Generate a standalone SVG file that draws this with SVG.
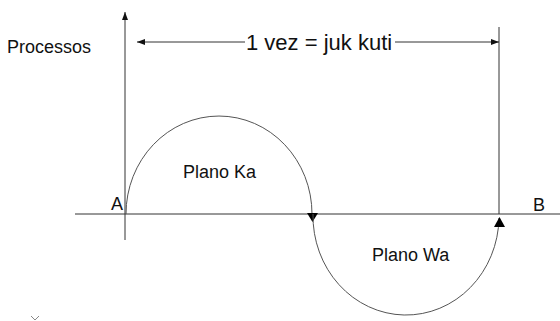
<svg xmlns="http://www.w3.org/2000/svg" width="560" height="321" viewBox="0 0 560 321">
<style>
.ax{stroke:#333;stroke-width:1;fill:none}
.arc{stroke:#555;stroke-width:1;fill:none}
text{font-family:"Liberation Sans",Arial,sans-serif;fill:#111}
.s{font-size:18px}
.l{font-size:22px}
</style>
<defs>
<marker id="sm" viewBox="0 0 8 6" refX="8" refY="3" markerWidth="8" markerHeight="6" orient="auto" markerUnits="userSpaceOnUse">
<path d="M0,0 L8,3 L0,6 z" fill="#111"/>
</marker>
</defs>
<g id="connectors">
<line class="ax" x1="125" y1="240" x2="125" y2="12" marker-end="url(#sm)"/>
<line class="ax" x1="75" y1="214" x2="560" y2="214"/>
<line class="ax" x1="499" y1="27" x2="499" y2="214"/>
<line class="ax" x1="245" y1="42" x2="137" y2="42" marker-end="url(#sm)"/>
<line class="ax" x1="395" y1="42" x2="499" y2="42" marker-end="url(#sm)"/>
<path class="arc" d="M126,214 A93,98 0 0 1 312,214" />
<path d="M307,213 L318,213 L312.5,222 z" fill="#000"/>
<path class="arc" d="M313,214 A93,99 0 0 0 499,218" />
<path d="M494,227 L505,227 L499.5,217 z" fill="#000"/>
<polyline points="31,316 35,320 39,316" fill="none" stroke="#888" stroke-width="1"/>
</g>
<g id="processos"><text class="s" x="7" y="53">Processos</text></g>
<g id="period"><text class="l" x="246" y="50">1 vez = juk kuti</text></g>
<g id="plano-ka"><text class="s" x="183" y="178">Plano Ka</text></g>
<g id="plano-wa"><text class="s" x="372" y="261">Plano Wa</text></g>
<g id="a"><text class="s" x="111" y="210">A</text></g>
<g id="b"><text class="s" x="533" y="211">B</text></g>
</svg>
